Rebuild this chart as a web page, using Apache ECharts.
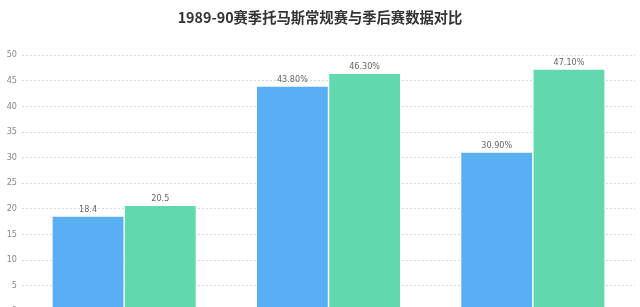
<!DOCTYPE html>
<html><head><meta charset="utf-8">
<script src="https://cdn.jsdelivr.net/npm/echarts@6/dist/echarts.min.js"></script>
<style>html,body{margin:0;padding:0;background:#fff}#c{width:640px;height:307px}</style>
</head><body><div id="c"></div>
<script>
var titleText = '1989-90赛季托马斯常规赛与季后赛数据对比';
var categories = ['场均得分', '投篮命中率', '三分命中率'];
var seriesNames = ['常规赛', '季后赛'];
var regularValues = [18.4, 43.8, 30.9];
var playoffValues = [20.5, 46.3, 47.1];
var regularLabels = ['18.4', '43.80%', '30.90%'];
var playoffLabels = ['20.5', '46.30%', '47.10%'];
var yTicks = [0, 5, 10, 15, 20, 25, 30, 35, 40, 45, 50];

var chart = echarts.init(document.getElementById('c'), null, {renderer: 'canvas'});
function lab(arr) {
  return {show: true, position: 'top', distance: 3, color: '#666', fontSize: 9,
    fontFamily: 'DejaVu Sans Condensed', formatter: function (p) { return arr[p.dataIndex]; }};
}
chart.setOption({
  animation: false,
  title: {text: titleText, left: 'center', top: 5,
    textStyle: {fontSize: 14.3, fontWeight: 'bold', color: '#333', fontFamily: 'Noto Sans CJK SC'}},
  legend: {show: false},
  grid: {left: 22, right: 5, top: 55, height: 256, containLabel: false, outerBoundsMode: 'none'},
  xAxis: {type: 'category', data: categories,
    axisLine: {show: false}, axisTick: {show: false}, axisLabel: {show: false}},
  yAxis: {type: 'value', min: yTicks[0], max: yTicks[yTicks.length - 1], interval: 5,
    axisLine: {show: false}, axisTick: {show: false},
    axisLabel: {color: '#888', fontSize: 9, margin: 5, fontFamily: 'DejaVu Sans Condensed'},
    splitLine: {lineStyle: {color: '#d8d8d8', type: [2, 2], width: 1}}},
  series: [
    {name: seriesNames[0], type: 'bar', data: regularValues, barGap: '2%', barCategoryGap: '30%',
      itemStyle: {color: '#5aaef3'}, label: lab(regularLabels)},
    {name: seriesNames[1], type: 'bar', data: playoffValues,
      itemStyle: {color: '#62d9ad'}, label: lab(playoffLabels)}
  ]
});
</script></body></html>
